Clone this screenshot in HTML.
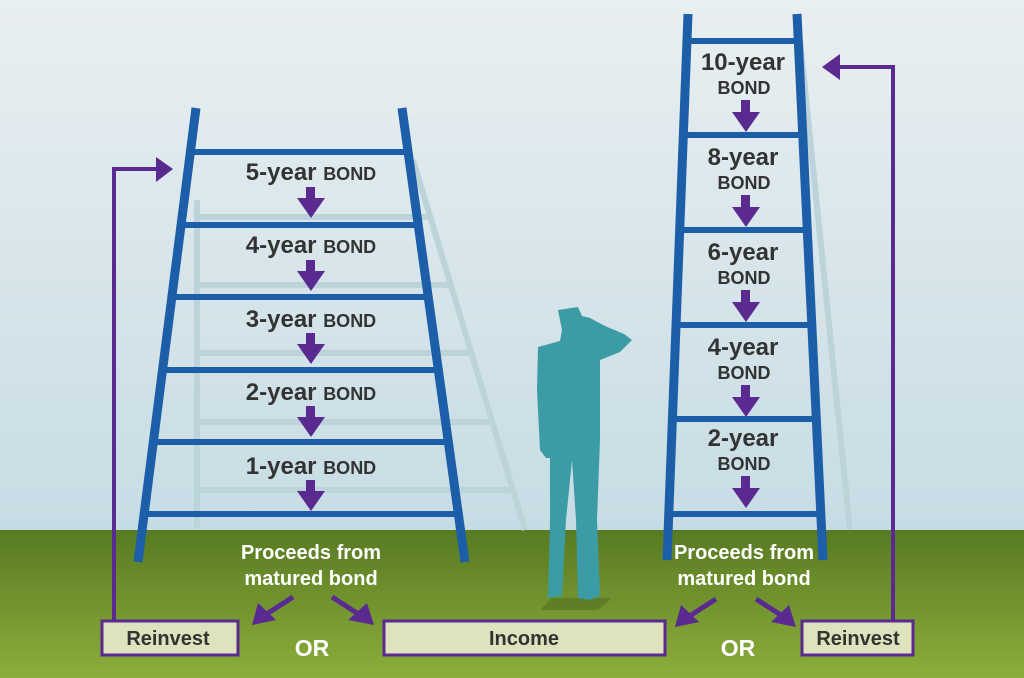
<!DOCTYPE html>
<html><head><meta charset="utf-8"><style>
html,body{margin:0;padding:0;width:1024px;height:678px;overflow:hidden}
svg{display:block}
text{font-family:"Liberation Sans",sans-serif;font-weight:bold}
</style></head><body>
<svg width="1024" height="678" viewBox="0 0 1024 678" xmlns="http://www.w3.org/2000/svg">
<defs>
<linearGradient id="sky" x1="0" y1="0" x2="0" y2="1">
<stop offset="0" stop-color="#e9eff1"/><stop offset="1" stop-color="#c6dce4"/>
</linearGradient>
<linearGradient id="grass" x1="0" y1="0" x2="0" y2="1">
<stop offset="0" stop-color="#587a22"/><stop offset="1" stop-color="#8cae3c"/>
</linearGradient>
</defs>
<rect width="1024" height="531" fill="url(#sky)"/>
<rect y="530" width="1024" height="148" fill="url(#grass)"/>

<!-- shadow ladders -->
<g stroke="#bcd3da" stroke-width="6" fill="none">
<line x1="197" y1="200" x2="197" y2="528"/>
<line x1="413" y1="160" x2="525" y2="530"/>
<line x1="197" y1="217" x2="430" y2="217"/>
<line x1="197" y1="285" x2="450" y2="285"/>
<line x1="197" y1="353" x2="470" y2="353"/>
<line x1="197" y1="422" x2="490" y2="422"/>
<line x1="197" y1="490" x2="510" y2="490"/>
<line x1="800" y1="40" x2="850" y2="530"/>
</g>
<polygon points="552,598 612,598 598,610 540,610" fill="#4a6a1c" opacity="0.5"/>

<!-- left ladder -->
<g stroke="#1d5ea8" fill="none">
<g stroke-width="6">
<line x1="190" y1="152" x2="408" y2="152"/>
<line x1="181" y1="225" x2="418" y2="225"/>
<line x1="172" y1="297" x2="428" y2="297"/>
<line x1="162" y1="370" x2="438" y2="370"/>
<line x1="153" y1="442" x2="448" y2="442"/>
<line x1="144" y1="514" x2="458" y2="514"/>
</g>
<g stroke-width="9">
<line x1="196" y1="108" x2="138" y2="562"/>
<line x1="402" y1="108" x2="465" y2="562"/>
</g>
</g>
<!-- right ladder -->
<g stroke="#1d5ea8" fill="none">
<g stroke-width="6">
<line x1="686" y1="41" x2="798" y2="41"/>
<line x1="683" y1="135" x2="803" y2="135"/>
<line x1="680" y1="230" x2="807" y2="230"/>
<line x1="676" y1="325" x2="811" y2="325"/>
<line x1="673" y1="419" x2="816" y2="419"/>
<line x1="670" y1="514" x2="820" y2="514"/>
</g>
<g stroke-width="9">
<line x1="688" y1="14" x2="667" y2="560"/>
<line x1="797" y1="14" x2="823" y2="560"/>
</g>
</g>

<!-- left labels -->
<g fill="#333">
<text x="311" y="180" text-anchor="middle" font-size="24">5-year <tspan font-size="18">BOND</tspan></text>
<text x="311" y="253" text-anchor="middle" font-size="24">4-year <tspan font-size="18">BOND</tspan></text>
<text x="311" y="327" text-anchor="middle" font-size="24">3-year <tspan font-size="18">BOND</tspan></text>
<text x="311" y="400" text-anchor="middle" font-size="24">2-year <tspan font-size="18">BOND</tspan></text>
<text x="311" y="474" text-anchor="middle" font-size="24">1-year <tspan font-size="18">BOND</tspan></text>
</g>
<g fill="#5b2a91">
<path d="M306,187h9v11h10l-14,20l-14,-20h9z"/>
<path d="M306,260h9v11h10l-14,20l-14,-20h9z"/>
<path d="M306,333h9v11h10l-14,20l-14,-20h9z"/>
<path d="M306,406h9v11h10l-14,20l-14,-20h9z"/>
<path d="M306,480h9v11h10l-14,20l-14,-20h9z"/>
</g>
<!-- right labels -->
<g fill="#333" text-anchor="middle">
<text x="743" y="70" font-size="24">10-year</text><text x="744" y="94" font-size="18">BOND</text>
<text x="743" y="165" font-size="24">8-year</text><text x="744" y="189" font-size="18">BOND</text>
<text x="743" y="260" font-size="24">6-year</text><text x="744" y="284" font-size="18">BOND</text>
<text x="743" y="355" font-size="24">4-year</text><text x="744" y="379" font-size="18">BOND</text>
<text x="743" y="446" font-size="24">2-year</text><text x="744" y="470" font-size="18">BOND</text>
</g>
<g fill="#5b2a91">
<path d="M741,100h9v12h10l-14,20l-14,-20h9z"/>
<path d="M741,195h9v12h10l-14,20l-14,-20h9z"/>
<path d="M741,290h9v12h10l-14,20l-14,-20h9z"/>
<path d="M741,385h9v12h10l-14,20l-14,-20h9z"/>
<path d="M741,476h9v12h10l-14,20l-14,-20h9z"/>
</g>

<!-- person -->
<path fill="#3b9ca6" d="M558,310 L578,307 L582,316 L590,318 L605,326 L624,334 L632,340 L620,352 L600,360 L600,440 L597,520 L600,596 L590,600 L578,598 L576,520 L572,460 L566,520 L562,596 L548,598 L550,520 L550,458 L546,458 L540,450 L537,390 L538,347 L560,341 L562,330 Z"/>

<!-- purple loop arrows -->
<g stroke="#5b2a91" stroke-width="4" fill="none">
<polyline points="114,622 114,169 158,169"/>
<polyline points="893,622 893,67 838,67"/>
</g>
<path d="M156,157 L173,169 L156,182 Z" fill="#5b2a91"/>
<path d="M840,54 L822,67 L840,80 Z" fill="#5b2a91"/>

<!-- proceeds text -->
<g fill="#fff" text-anchor="middle" font-size="20">
<text x="311" y="559">Proceeds from</text>
<text x="311" y="585">matured bond</text>
<text x="744" y="559">Proceeds from</text>
<text x="744" y="585">matured bond</text>
<text x="312" y="656" font-size="23">OR</text>
<text x="738" y="656" font-size="23">OR</text>
</g>
<!-- diagonal arrows -->
<g stroke="#5b2a91" stroke-width="5">
<line x1="293" y1="597" x2="265" y2="615"/>
<line x1="332" y1="597" x2="360" y2="615"/>
<line x1="716" y1="599" x2="688" y2="617"/>
<line x1="756" y1="599" x2="784" y2="617"/>
</g>
<g fill="#5b2a91">
<path d="M252,625 L258,603 L276,620 Z"/>
<path d="M374,625 L348,620 L367,603 Z"/>
<path d="M675,627 L681,605 L699,622 Z"/>
<path d="M796,627 L771,622 L789,605 Z"/>
</g>

<!-- boxes -->
<g fill="#dfe3bd" stroke="#5b2a91" stroke-width="3">
<rect x="102" y="621" width="136" height="34"/>
<rect x="384" y="621" width="281" height="34"/>
<rect x="802" y="621" width="111" height="34"/>
</g>
<g fill="#333" text-anchor="middle" font-size="20">
<text x="168" y="645">Reinvest</text>
<text x="524" y="645">Income</text>
<text x="858" y="645">Reinvest</text>
</g>
</svg>
</body></html>
